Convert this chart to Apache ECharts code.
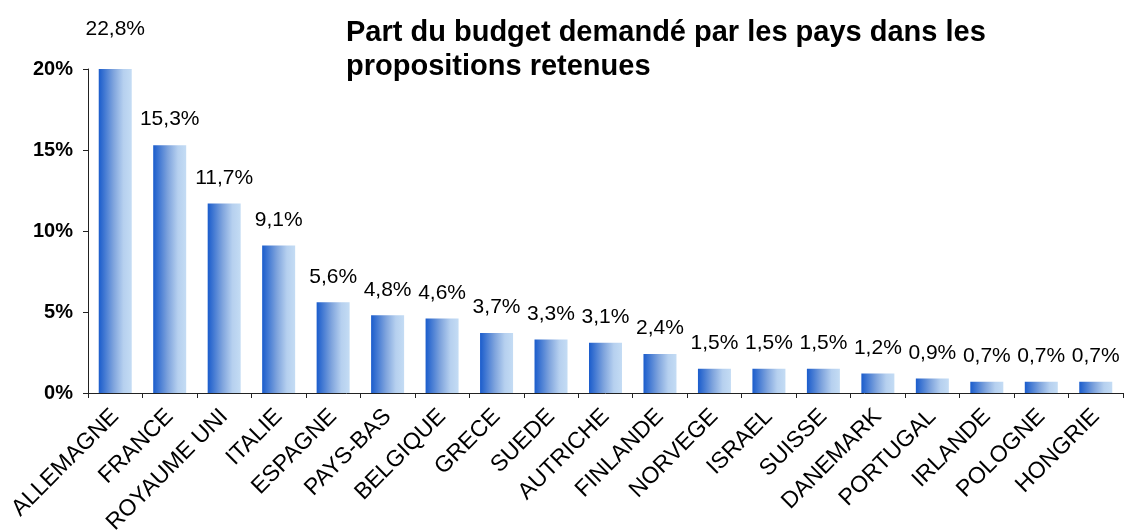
<!DOCTYPE html>
<html>
<head>
<meta charset="utf-8">
<script src="https://cdn.jsdelivr.net/npm/echarts@6/dist/echarts.min.js"></script>
<style>
  html, body { margin: 0; padding: 0; background: #fff; }
  #container { width: 1124px; height: 530px; }
</style>
</head>
<body>
<div id="container"></div>
<script>
var pays = ['ALLEMAGNE', 'FRANCE', 'ROYAUME UNI', 'ITALIE', 'ESPAGNE', 'PAYS-BAS', 'BELGIQUE',
    'GRECE', 'SUEDE', 'AUTRICHE', 'FINLANDE', 'NORVEGE', 'ISRAEL', 'SUISSE', 'DANEMARK',
    'PORTUGAL', 'IRLANDE', 'POLOGNE', 'HONGRIE'];
var parts = [22.8, 15.3, 11.7, 9.1, 5.6, 4.8, 4.6, 3.7, 3.3, 3.1, 2.4, 1.5, 1.5, 1.5, 1.2, 0.9, 0.7, 0.7, 0.7];
var yTicks = [0, 5, 10, 15, 20];

var dom = document.getElementById('container');
var myChart = echarts.init(dom);

var barColor = new echarts.graphic.LinearGradient(0, 0, 1, 0, [
    {offset: 0, color: '#1a5ccc'},
    {offset: 0.45, color: '#7fa4dd'},
    {offset: 0.75, color: '#b6d0ef'},
    {offset: 1, color: '#c4dcf4'}
]);

var barData = parts.map(function (v, i) {
    // la barre ALLEMAGNE dépasse l'axe (max 20%), son étiquette est plus haut
    if (v > yTicks[yTicks.length - 1]) {
        return {value: v, label: {offset: [0, -14]}};
    }
    return v;
});

var option = {
    animation: false,
    title: {
        text: 'Part du budget demandé par les pays dans les\npropositions retenues',
        left: 341,
        top: 11,
        textStyle: {
            fontFamily: 'Liberation Sans, Arial, sans-serif',
            fontSize: 29,
            fontWeight: 'bold',
            color: '#000',
            lineHeight: 34
        }
    },
    grid: {left: 88, right: 1, top: 69, bottom: 137, outerBoundsMode: 'none', containLabel: false},
    xAxis: {
        type: 'category',
        data: pays,
        axisLine: {lineStyle: {color: '#222', width: 1}},
        axisTick: {show: true, length: 5, lineStyle: {color: '#222'}},
        axisLabel: {
            interval: 0,
            rotate: 45,
            margin: 20,
            color: '#000',
            fontSize: 23,
            fontFamily: 'Liberation Sans, Arial, sans-serif'
        }
    },
    yAxis: {
        type: 'value',
        min: yTicks[0],
        max: yTicks[yTicks.length - 1],
        interval: 5,
        splitLine: {show: false},
        axisLine: {show: true, lineStyle: {color: '#222', width: 1}},
        axisTick: {show: true, length: 5, lineStyle: {color: '#222'}},
        axisLabel: {
            formatter: '{value}%',
            margin: 15,
            color: '#000',
            fontSize: 20,
            fontWeight: 'bold',
            fontFamily: 'Liberation Sans, Arial, sans-serif'
        }
    },
    series: [
        {
            name: 'Part du budget',
            type: 'bar',
            barWidth: 33,
            clip: true,
            data: barData,
            itemStyle: {color: barColor},
            label: {
                show: true,
                position: 'top',
                distance: 15,
                color: '#000',
                fontSize: 21,
                fontFamily: 'Liberation Sans, Arial, sans-serif',
                formatter: function (p) {
                    return String(p.value).replace('.', ',') + '%';
                }
            }
        }
    ]
};

myChart.setOption(option, true);
</script>
</body>
</html>
